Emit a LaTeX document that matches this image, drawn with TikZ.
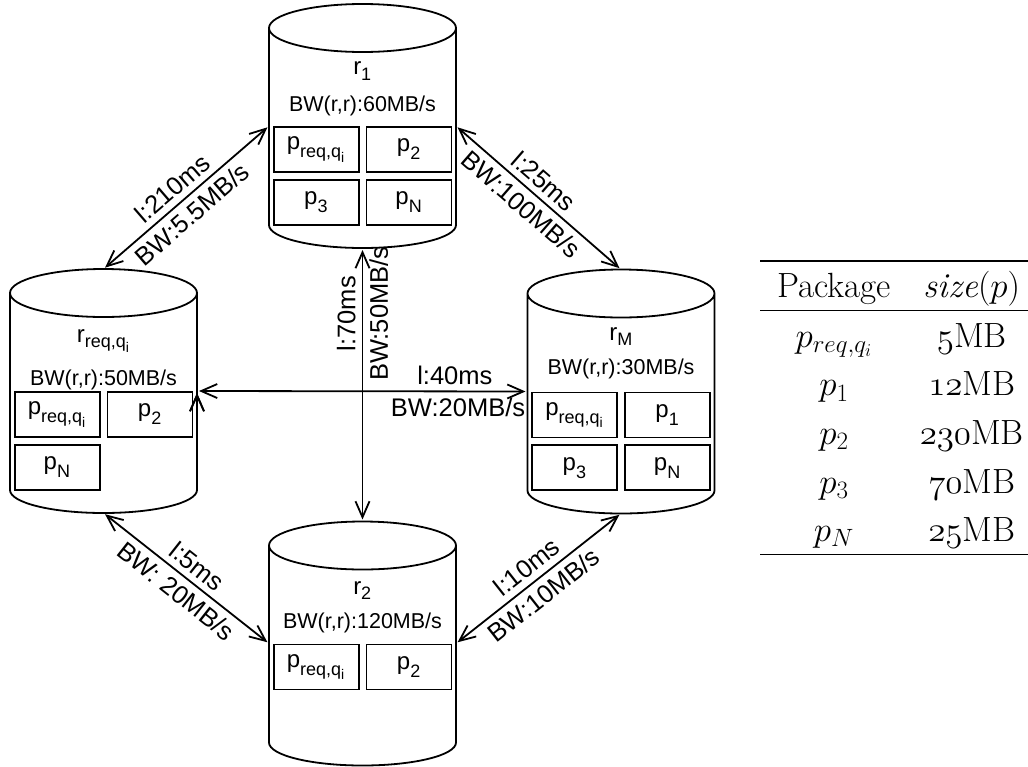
\documentclass[tikz,border=0pt]{standalone}
\usepackage{fix-cm}
\usepackage{amsmath}
\usepackage{fontspec}
\usepackage{booktabs}
\setsansfont{Liberation Sans}
\usetikzlibrary{positioning,calc,arrows.meta}
\DeclareMathSizes{24}{24}{18}{14}
\DeclareMathSizes{35}{35}{25}{18}
\newcommand{\rowstrut}{\rule[-12pt]{0pt}{48pt}}
\newcommand{\lsub}[2]{$\text{#1}_{\lower2pt\hbox{$\scriptstyle #2$}}$}
\newcommand{\preq}{\lsub{p}{\text{req,q}_{\text{i}}}}
\newcommand{\oldnum}[1]{$\mathnormal{#1}$}
\newcommand{\drawstore}[1]{%
	\draw[store line] ($(#1.north)+(0,24)$) ellipse [x radius=93.5,y radius=24]
	($(#1.north west)+(0,24)$) -- ($(#1.south west)+(0,-23)$) arc [start angle=180,end angle=0,x radius=93.5,y radius=23] -- ($(#1.north east)+(0,24)$);}
\tikzset{store node/.style={rectangle,minimum width=187pt,minimum height=244pt,inner sep=0pt,outer sep=0pt},
	store line/.style={line width=1.8pt},
	pack node/.style={rectangle,draw,line width=1.8pt,minimum width=85pt,minimum height=45pt,inner sep=0pt,font=\sffamily\fontsize{24}{28}\selectfont},
	name node/.style={inner sep=0pt,font=\sffamily\fontsize{24}{28}\selectfont},
	bw node/.style={inner sep=0pt,font=\sffamily\fontsize{21.5}{25}\selectfont},
	link label/.style={sloped,inner sep=0pt,font=\sffamily\fontsize{25.5}{30}\selectfont},
}

\begin{document}
\begin{tikzpicture}[x=1pt,y=-1pt,node distance = 6pt,>={Straight Barb[length=16pt,width=14pt]},shorten >=2pt,shorten <=2pt]
		\useasboundingbox (0,0) rectangle (1028,766);
		\node[store node] (r1) at (362.5,126){};
		\node[store node] (rreq) at (103.5,391){};
		\node[store node] (rM) at (621,391.5){};
		\node[store node] (r2) at (362.5,643.5){};
		\drawstore{r1}
		\drawstore{rreq}
		\drawstore{rM}
		\drawstore{r2}
		
		\node[bw node] (bw1)[above = 10pt of r1.center]{BW(r,r):60MB/s};
		\node[name node] (name1)[above = 15pt of bw1]{\lsub{r}{\text{1}}};
		\node[pack node] (p1a)[below left = 0pt and 3pt of r1.center]{\preq};
		\node[pack node] (p1b)[right = of p1a]{\lsub{p}{\text{2}}};
		\node[pack node] (p1c)[below = of p1a]{\lsub{p}{\text{3}}};
		\node[pack node] (p1d)[below = of p1b]{\lsub{p}{\text{N}}};
		
		\node[bw node] (bwreq)[above = 1pt of rreq.center]{BW(r,r):50MB/s};
		\node[name node] (namereq)[above = 17pt of bwreq]{\lsub{r}{\text{req,q}_{\text{i}}}};
		\node[pack node] (preqa)[below left = 0pt and 3pt of rreq.center]{\preq};
		\node[pack node] (preqb)[right = of preqa]{\lsub{p}{\text{2}}};
		\node[pack node] (preqc)[below = of preqa]{\lsub{p}{\text{N}}};
		
		\node[bw node] (bwM)[above = 12pt of rM.center]{BW(r,r):30MB/s};
		\node[name node] (nameM)[above = 13pt of bwM]{\lsub{r}{\text{M}}};
		\node[pack node] (pMa)[below left = 0pt and 3pt of rM.center]{\preq};
		\node[pack node] (pMb)[right = of pMa]{\lsub{p}{\text{1}}};
		\node[pack node] (pMc)[below = of pMa]{\lsub{p}{\text{3}}};
		\node[pack node] (pMd)[below = of pMb]{\lsub{p}{\text{N}}};
		
		\node[bw node] (bw2)[above = 10pt of r2.center]{BW(r,r):120MB/s};
		\node[name node] (name2)[above = 13pt of bw2]{\lsub{r}{\text{2}}};
		\node[pack node] (p2a)[below left = 0pt and 3pt of r2.center]{\preq};
		\node[pack node] (p2b)[right = of p2a]{\lsub{p}{\text{2}}};
		
		\path[draw,<->,line width=1.8pt]
		(r1.west) edge node[link label,pos=.52,above=6pt] {l:210ms} node[link label,pos=.53,below=6pt] {BW:5.5MB/s} (rreq.north)
		(r1.east) edge node[link label,pos=.47,above=6pt] {l:25ms} node[link label,pos=.46,below=6pt] {BW:100MB/s} (rM.north)
		(rreq.south) edge node[link label,pos=.505,above=6pt] {l:5ms} node[link label,pos=.5,below=6pt] {BW: 20MB/s} (r2.west)
		(r2.east) edge node[link label,pos=.49,above=6pt] {l:10ms} node[link label,pos=.47,below=6pt] {BW:10MB/s} (rM.south)
		(r2.north) edge node[link label,pos=.76,above=6pt] {l:70ms} node[link label,pos=.76,below=6pt] {BW:50MB/s} (r1.south)
		(rreq.east) edge node[link label,pos=.78,above=6pt] {l:40ms} node[link label,pos=.79,below=6pt] {BW:20MB/s} (rM.west);
		
		\node[anchor=north east,inner sep=0pt,font=\fontsize{35}{42}\selectfont] (sizetable) at (1028,260){%
			\setlength{\aboverulesep}{0pt}\setlength{\belowrulesep}{0pt}%
			\begin{tabular}{@{\hspace{17pt}}c@{\hspace{29pt}}c@{\hspace{4pt}}}
				\toprule[1.5pt]
				\rowstrut Package & \textit{size}$(p)$ \\
				\midrule[1pt]
				\rowstrut $p_{req,q_i}$ & \oldnum{5}MB \\
				\rowstrut $p_1$ & \oldnum{12}MB \\
				\rowstrut $p_2$ & \oldnum{230}MB \\
				\rowstrut $p_3$ & \oldnum{70}MB \\
				\rowstrut $p_N$ & \oldnum{25}MB \\
				\bottomrule[1pt]
			\end{tabular}};
	\end{tikzpicture}
\end{document}
